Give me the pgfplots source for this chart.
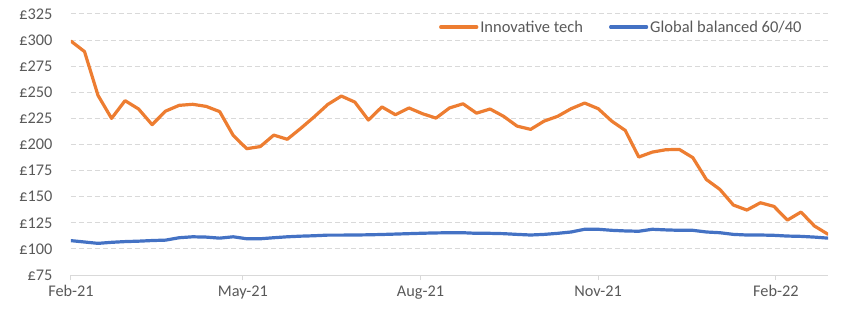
\documentclass[border=0pt]{standalone}
\usepackage{fontspec}
\setmainfont{Carlito}
\usepackage{pgfplots}
\pgfplotsset{compat=1.18}
\definecolor{techorange}{HTML}{ED7D31}
\definecolor{balblue}{HTML}{4472C4}
\definecolor{gridgray}{HTML}{D9D9D9}
\definecolor{labelgray}{HTML}{595959}
\begin{document}
\begin{tikzpicture}
\useasboundingbox (-71bp,-46bp) rectangle (781bp,275bp);
\begin{axis}[
  scale only axis,
  width=757bp, height=261bp,
  xmin=0, xmax=392,
  ymin=75, ymax=325,
  axis x line*=bottom,
  axis y line*=left,
  x axis line style={gridgray, line width=1bp, -},
  y axis line style={draw=none},
  xtick={0,89,181,273,365},
  xticklabels={Feb-21,May-21,Aug-21,Nov-21,Feb-22},
  tick align=outside,
  major tick length=5bp,
  xtick style={gridgray, line width=1bp},
  ytick={75,100,...,325},
  yticklabels={£75,£100,£125,£150,£175,£200,£225,£250,£275,£300,£325},
  ymajorgrids,
  major grid style={gridgray, line width=1bp, dash pattern=on 5bp off 3bp},
  ytick style={draw=none},
  tick label style={font=\fontsize{16.3bp}{19bp}\selectfont, text=labelgray},
  yticklabel style={xshift=-10bp},
  xticklabel style={yshift=-2bp},
  legend columns=2,
  legend style={draw=none, fill=none, at={(0.727,0.95)}, anchor=center,
    font=\fontsize{16.5bp}{19bp}\selectfont, text=labelgray,
    /tikz/every even column/.append style={column sep=24bp}},
  legend image code/.code={\draw[#1] (0bp,0bp) -- (36bp,0bp);},
  every axis plot/.append style={line width=3.2bp, line join=round, line cap=round, no markers},
]
\addplot[techorange] coordinates {
(0,299) (7,289) (14,247) (21,225) (28,242) (35,234) (42,219) (49,232) (56,237.5) (63,238.5)
(70,236.5) (77,231.5) (84,208.7) (91,196) (98,198) (105,209) (112,205) (119,215.5) (126,226.6) (133,238.4)
(140,246.4) (147,240.6) (154,223.4) (161,236) (168,228.5) (175,235) (182,229.5) (189,225.3) (196,235) (203,239)
(210,230) (217,234) (224,227) (231,217.6) (238,214.5) (245,222.4) (252,227) (259,234.3) (266,239.7) (273,234.3)
(280,222.4) (287,213.5) (294,188) (301,192.7) (308,195) (315,195.3) (322,187.4) (329,166.5) (336,157) (343,142)
(350,137.2) (357,144.2) (364,140.7) (371,127.6) (378,135.3) (385,121.9) (392,114)
};
\addlegendentry{Innovative tech}
\addplot[balblue] coordinates {
(0,107.9) (7,106.6) (14,105.3) (21,106.3) (28,107) (35,107.4) (42,108) (49,108.4) (56,110.7) (63,111.6)
(70,111.3) (77,110.3) (84,111.6) (91,109.7) (98,109.7) (105,110.7) (112,111.6) (119,112.2) (126,112.6) (133,113.2)
(140,113.2) (147,113.3) (154,113.5) (161,113.8) (168,114.2) (175,114.6) (182,115) (189,115.3) (196,115.5) (203,115.5)
(210,114.9) (217,114.9) (224,114.6) (231,113.9) (238,113.3) (245,113.9) (252,114.9) (259,116.2) (266,118.8) (273,118.8)
(280,117.8) (287,117.2) (294,116.9) (301,118.8) (308,118.2) (315,117.8) (322,117.8) (329,116.2) (336,115.5) (343,113.9)
(350,113.3) (357,113.3) (364,113) (371,112.3) (378,112) (385,111.3) (392,110.3)
};
\addlegendentry{Global balanced 60/40}
\end{axis}
\end{tikzpicture}
\end{document}
